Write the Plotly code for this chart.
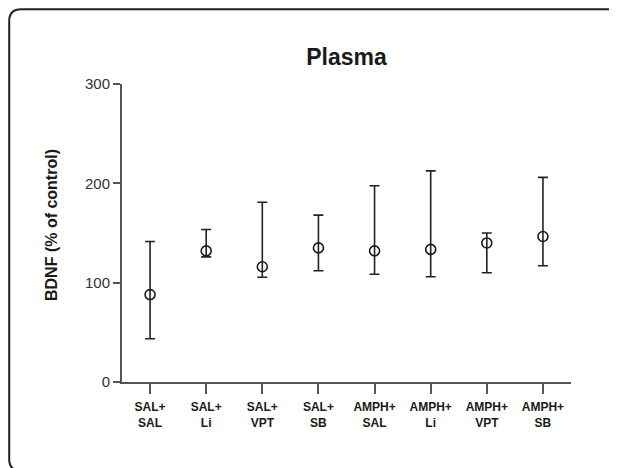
import plotly.graph_objects as go

categories = ["SAL+<br>SAL", "SAL+<br>Li", "SAL+<br>VPT", "SAL+<br>SB",
              "AMPH+<br>SAL", "AMPH+<br>Li", "AMPH+<br>VPT", "AMPH+<br>SB"]
means = [88, 132, 116, 135, 132, 133.5, 140, 146.5]
upper = [141.5, 153.5, 181, 168, 197.5, 212.5, 150, 206]
lower = [43.5, 126, 105.5, 112, 108.5, 106, 110, 117]

err_plus = [u - m for u, m in zip(upper, means)]
err_minus = [m - l for m, l in zip(means, lower)]

# the page body adds an 8px offset; work in window pixels and compensate
OFF = 8
W, H = 617 - OFF, 468 - OFF
L, R, T, B = 122 - OFF, 46, 84 - OFF, 86
PW, PH = W - L - R, H - T - B


def px(x):
    return (x - OFF - L) / PW


def py(y):
    return (H - B - (y - OFF)) / PH


fig = go.Figure()
fig.add_trace(go.Scatter(
    x=categories, y=means, mode="markers",
    marker=dict(symbol="circle-open", size=10, color="#1a1a1a",
                line=dict(width=1.6, color="#1a1a1a")),
    error_y=dict(type="data", symmetric=False, array=err_plus,
                 arrayminus=err_minus, color="#222", thickness=1.6, width=5),
    showlegend=False, cliponaxis=False,
))

# rounded border (window pixel coordinates)
x0, x1, y0, y1, r = 9.2, 622, 9.2, 471, 12
path = (f"M {px(x0)},{py(y0 + r)} Q {px(x0)},{py(y0)} {px(x0 + r)},{py(y0)} "
        f"L {px(x1 - r)},{py(y0)} Q {px(x1)},{py(y0)} {px(x1)},{py(y0 + r)} "
        f"L {px(x1)},{py(y1 - r)} Q {px(x1)},{py(y1)} {px(x1 - r)},{py(y1)} "
        f"L {px(x0 + r)},{py(y1)} Q {px(x0)},{py(y1)} {px(x0)},{py(y1 - r)} Z")
fig.add_shape(type="path", path=path, xref="paper", yref="paper",
              line=dict(color="#222", width=2), layer="above")

fig.add_annotation(text="<b>BDNF (% of control)</b>", textangle=-90,
                   x=px(51), y=py(225), xref="paper", yref="paper",
                   xanchor="center", yanchor="middle", showarrow=False,
                   font=dict(family="Liberation Sans, Arial", size=16, color="#1a1a1a"))

fig.update_layout(
    width=W, height=H,
    margin=dict(l=L, r=R, t=T, b=B),
    paper_bgcolor="white", plot_bgcolor="white",
    title=dict(text="<b>Plasma</b>", x=0.5, xref="paper", xanchor="center",
               y=1 - (57 - OFF) / H, yref="container", yanchor="middle",
               font=dict(family="Liberation Sans, Arial", size=23, color="#1a1a1a")),
    font=dict(family="Liberation Sans, Arial", color="#222"),
    xaxis=dict(range=[-0.5, 7.5], showline=True, linecolor="#555", linewidth=2,
               ticks="outside", ticklen=10, tickwidth=2, tickcolor="#555",
               showgrid=False, zeroline=False, ticklabelstandoff=3,
               tickfont=dict(size=12, family="Liberation Sans, Arial", color="#1a1a1a",
                             weight="bold")),
    yaxis=dict(range=[0, 300], tickvals=[0, 100, 200, 300], showline=True,
               linecolor="#555", linewidth=2, ticks="outside", ticklen=7,
               tickwidth=2, tickcolor="#555", showgrid=False, zeroline=False,
               tickfont=dict(size=15, color="#333")),
)

fig.write_html("out.html")
